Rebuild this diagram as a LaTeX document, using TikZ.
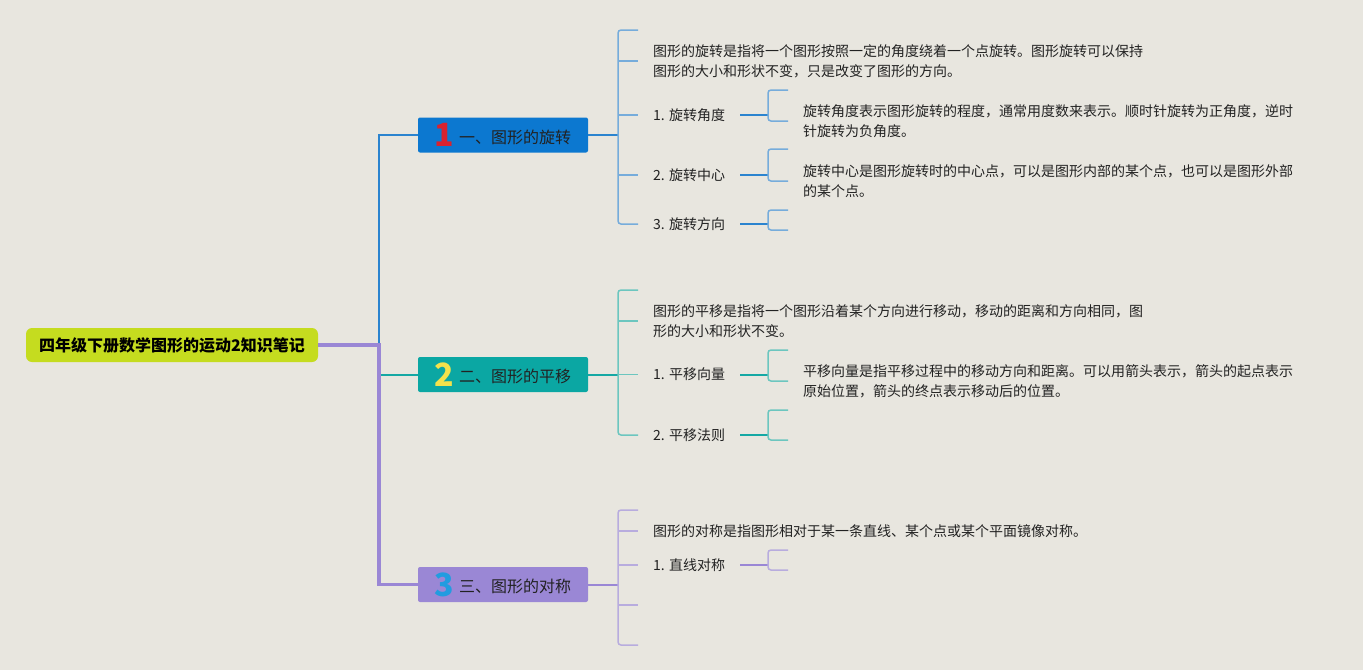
\documentclass[tikz,border=0pt]{standalone}
\usepackage{fontspec}
\setmainfont{Noto Sans CJK SC}
\definecolor{bg}{HTML}{E8E6DF}
\definecolor{rootc}{HTML}{C5DC1F}
\definecolor{b1c}{HTML}{0C78D0}
\definecolor{b2c}{HTML}{0BA7A3}
\definecolor{b3c}{HTML}{9A87D5}
\definecolor{n1}{HTML}{D9222E}
\definecolor{n2}{HTML}{F3E24B}
\definecolor{n3}{HTML}{229CE0}
\definecolor{l1}{HTML}{2B84CF}
\definecolor{l1s}{HTML}{76ACDB}
\definecolor{l2}{HTML}{15A8A4}
\definecolor{l2s}{HTML}{6CC6BF}
\definecolor{l3}{HTML}{9A87D5}
\definecolor{l3s}{HTML}{B8ACDE}
\definecolor{txt}{HTML}{222222}
\tikzset{
  rootbox/.style={fill=rootc, rounded corners=6pt, minimum width=292pt, minimum height=34pt, inner sep=0pt, text=black, font=\fontsize{16}{16}\selectfont\bfseries},
  brbox/.style={rounded corners=2pt, minimum width=170pt, minimum height=35pt, inner sep=0pt, text=txt, font=\fontsize{16}{16}\selectfont},
  lbl/.style={anchor=west, inner xsep=15pt, inner ysep=0pt, text=txt, align=left, font=\fontsize{14}{20}\selectfont},
  mainln/.style={line width=2pt},
  subln/.style={line width=1.5pt, rounded corners=3pt}
}
\newcommand{\bignum}[3]{{\fontsize{32}{32}\selectfont\bfseries\color{#1}#2}\hspace{5pt}\raisebox{3.5pt}{#3}}
\begin{document}
\begin{tikzpicture}[x=1pt,y=-1pt]
\fill[bg] (0,0) rectangle (1363,670);
\useasboundingbox (0,0) rectangle (1363,670);

% root and branches
\node[rootbox] (root) at (172,345) {四年级下册数学图形的运动2知识笔记};
\node[brbox, fill=b1c] (b1) at (503,135) {\bignum{n1}{1}{一、图形的旋转}};
\node[brbox, fill=b2c] (b2) at (503,374.5) {\bignum{n2}{2}{二、图形的平移}};
\node[brbox, fill=b3c] (b3) at (503,584.5) {\bignum{n3}{3}{三、图形的对称}};
\coordinate (j) at (379,345);
\draw[l1, mainln] (j) |- (b1.west);
\draw[l2, mainln] (j) |- (b2.west);
\draw[l3, line width=3.2pt] (root.east) -- (j) |- (b3.west);

% ---------- branch 1 ----------
\coordinate (s1) at (618,135);
\coordinate (e11) at (638,30);
\node[lbl] (d1) at (638,61) {图形的旋转是指将一个图形按照一定的角度绕着一个点旋转。图形旋转可以保持\\图形的大小和形状不变，只是改变了图形的方向。};
\node[lbl] (c11) at (638,115) {1. 旋转角度};
\node[lbl] (c12) at (638,175) {2. 旋转中心};
\node[lbl] (c13) at (638,224) {3. 旋转方向};
\draw[l1, mainln] (b1.east) -- (s1);
\draw[l1s, subln] (e11) -| (s1) |- (c13.west);
\draw[l1s, line width=1.5pt] (s1 |- d1.west) -- (d1.west);
\draw[l1s, line width=1.5pt] (s1 |- c11.west) -- (c11.west);
\draw[l1s, line width=1.5pt] (s1 |- c12.west) -- (c12.west);

\coordinate (k11) at (768,115);
\coordinate (e111) at (788,90);
\node[lbl] (d11) at (788,121) {旋转角度表示图形旋转的程度，通常用度数来表示。顺时针旋转为正角度，逆时\\针旋转为负角度。};
\draw[l1, mainln] (c11.east) -- (k11);
\draw[l1s, subln] (e111) -| (k11) |- (d11.west);

\coordinate (k12) at (768,175);
\coordinate (e121) at (788,149);
\node[lbl] (d12) at (788,181) {旋转中心是图形旋转时的中心点，可以是图形内部的某个点，也可以是图形外部\\的某个点。};
\draw[l1, mainln] (c12.east) -- (k12);
\draw[l1s, subln] (e121) -| (k12) |- (d12.west);

\coordinate (k13) at (768,224);
\coordinate (e131) at (788,210);
\coordinate (e132) at (788,230);
\draw[l1, mainln] (c13.east) -- (k13);
\draw[l1s, subln] (e131) -| (k13) |- (e132);

% ---------- branch 2 ----------
\coordinate (s2) at (618,374.5);
\coordinate (e21) at (638,290);
\node[lbl] (d2) at (638,321) {图形的平移是指将一个图形沿着某个方向进行移动，移动的距离和方向相同，图\\形的大小和形状不变。};
\node[lbl] (c21) at (638,374.5) {1. 平移向量};
\node[lbl] (c22) at (638,435) {2. 平移法则};
\draw[l2, mainln] (b2.east) -- (s2);
\draw[l2s, subln] (e21) -| (s2) |- (c22.west);
\draw[l2s, line width=1.5pt] (s2 |- d2.west) -- (d2.west);
\draw[l2s, line width=1.5pt] (s2) -- (c21.west);

\coordinate (k21) at (768,374.5);
\coordinate (e211) at (788,350);
\node[lbl] (d21) at (788,381) {平移向量是指平移过程中的移动方向和距离。可以用箭头表示，箭头的起点表示\\原始位置，箭头的终点表示移动后的位置。};
\draw[l2, mainln] (c21.east) -- (k21);
\draw[l2s, subln] (e211) -| (k21) |- (d21.west);

\coordinate (k22) at (768,435);
\coordinate (e221) at (788,410);
\coordinate (e222) at (788,440);
\draw[l2, mainln] (c22.east) -- (k22);
\draw[l2s, subln] (e221) -| (k22) |- (e222);

% ---------- branch 3 ----------
\coordinate (s3) at (618,584.5);
\coordinate (e31) at (638,510);
\node[lbl] (d3) at (638,531) {图形的对称是指图形相对于某一条直线、某个点或某个平面镜像对称。};
\node[lbl] (c31) at (638,565) {1. 直线对称};
\coordinate (e32) at (638,605);
\coordinate (e33) at (638,645);
\draw[l3, mainln] (b3.east) -- (s3);
\draw[l3s, subln] (e31) -| (s3) |- (e33);
\draw[l3s, line width=1.5pt] (s3 |- d3.west) -- (d3.west);
\draw[l3s, line width=1.5pt] (s3 |- c31.west) -- (c31.west);
\draw[l3s, line width=1.5pt] (s3 |- e32) -- (e32);

\coordinate (k31) at (768,565);
\coordinate (e311) at (788,550);
\coordinate (e312) at (788,570);
\draw[l3, mainln] (c31.east) -- (k31);
\draw[l3s, subln] (e311) -| (k31) |- (e312);
\end{tikzpicture}
\end{document}
